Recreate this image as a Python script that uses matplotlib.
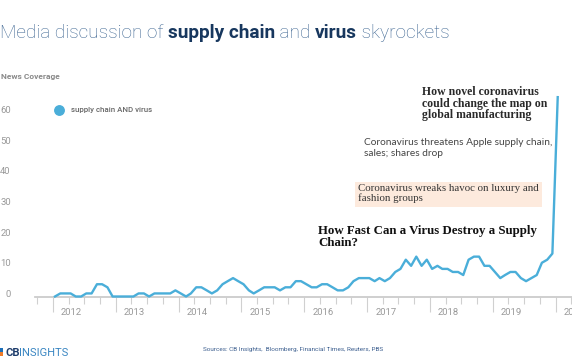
import pandas as pd
import matplotlib
matplotlib.use('Agg')
import matplotlib.pyplot as plt
import matplotlib.dates as mdates
from matplotlib.lines import Line2D
from matplotlib.patches import Rectangle
from matplotlib.transforms import ScaledTranslation

# === Data: monthly news mentions of "supply chain AND virus" ===
start_month = '2012-01-01'
mentions = [0, 1, 1, 1, 0, 0, 1, 1, 4, 4, 3, 0,       # 2012
            0, 0, 0, 0, 1, 1, 0, 1, 1, 1, 1, 2,       # 2013
            1, 0, 1, 3, 3, 2, 1, 2, 4, 5, 6, 5,       # 2014
            4, 2, 1, 2, 3, 3, 3, 2, 3, 3, 5, 5,       # 2015
            4, 3, 3, 4, 4, 3, 2, 2, 3, 5, 6, 6,       # 2016
            6, 5, 6, 5, 6, 8, 9, 12, 10, 13, 10, 12,  # 2017
            9, 10, 9, 9, 8, 8, 7, 12, 13, 13, 10, 10,  # 2018
            8, 6, 7, 8, 8, 6, 5, 6, 7, 11, 12, 14,    # 2019
            65]                                        # 2020
series_label = 'supply chain AND virus'
years = list(range(2012, 2021))
y_ticks = [0, 10, 20, 30, 40, 50, 60]

headlines = [
    'How novel coronavirus\ncould change the map on\nglobal manufacturing',
    'Coronavirus threatens Apple supply chain,\nsales; shares drop',
    'Coronavirus wreaks havoc on luxury and\nfashion groups',
    'How Fast Can a Virus Destroy a Supply\nChain?',
]

title_parts = [('Media discussion of ', 'light', '#3a6390'),
               ('supply chain', 'bold', '#17375e'),
               (' and ', 'light', '#3a6390'),
               ('virus', 'bold', '#17375e'),
               (' skyrockets', 'light', '#3a6390')]

LINE_COLOR = '#4aaed9'
GRAY = '#999999'

W, H = 572, 364
fig = plt.figure(figsize=(W / 100, H / 100), dpi=100)


def fx(px):
    return px / W


def fy(py):
    return 1 - py / H


dates = pd.date_range(start_month, periods=len(mentions), freq='MS') + pd.Timedelta(days=12)

# axes placed so that 2012-01-01 sits at x=53px, baseline at y=296px
ax = fig.add_axes([fx(35), fy(296.5), fx(W - 35), (66 * 3.067) / H])
ax.plot(dates, mentions, color=LINE_COLOR, lw=1.7, clip_on=False,
        solid_joinstyle='round', zorder=3)

ax.set_ylim(0, 66)
ax.set_xlim(pd.Timestamp('2011-09-19'), pd.Timestamp('2020-04-05'))

for side in ['top', 'right', 'left']:
    ax.spines[side].set_visible(False)
ax.spines['bottom'].set_color('#cccccc')
ax.spines['bottom'].set_linewidth(1.3)

ax.xaxis.set_major_locator(mdates.YearLocator())
ax.xaxis.set_minor_locator(mdates.MonthLocator(bymonth=[4, 7, 10]))
ax.tick_params(axis='x', which='major', length=11, width=0.8, color='#d0d0d0', labelbottom=False)
ax.tick_params(axis='x', which='minor', length=5, width=0.8, color='#d0d0d0')

for yr in years:
    ax.annotate(str(yr), xy=(pd.Timestamp(f'{yr}-01-01'), 0), xycoords=('data', 'axes fraction'),
                xytext=(5.8, -11.5), textcoords='offset points', ha='left', va='center',
                fontsize=6.8, color=GRAY, family='Roboto', annotation_clip=False)

ax.set_yticks(y_ticks)
ax.set_yticklabels([str(v) for v in y_ticks])
ax.tick_params(axis='y', length=0, pad=17.5, labelsize=6.8, labelcolor=GRAY)
for lbl in ax.get_yticklabels():
    lbl.set_family('Roboto')
    lbl.set_horizontalalignment('right')
    lbl.set_transform(lbl.get_transform() + ScaledTranslation(0, 3 / 100, fig.dpi_scale_trans))

fig.text(fx(1), fy(77), 'News Coverage', fontsize=6, fontweight='bold', color='#8a8a8a',
         family='Roboto', va='center', ha='left')

handle = Line2D([], [], marker='o', linestyle='none', color=LINE_COLOR, markersize=6.8)
ax.legend([handle], [series_label], loc='center left', bbox_to_anchor=(fx(51.5), fy(110)),
          bbox_transform=fig.transFigure, frameon=False, borderpad=0, handlelength=1.0,
          handletextpad=0.95, prop={'family': 'Roboto', 'size': 5.7, 'weight': 'medium'},
          labelcolor='#666666')

# title built from pieces (mixed weights)
renderer = fig.canvas.get_renderer()
x = fx(0)
for txt, weight, color in title_parts:
    t = fig.text(x, fy(37.5), txt, fontsize=13.7, fontweight=weight, color=color,
                 family='Roboto', va='baseline', ha='left')
    x = t.get_window_extent(renderer).x1 / W

# headline call-outs
fig.text(fx(421.5), fy(86), headlines[0], fontsize=8.5, fontweight='bold', color='#2a2a2a',
         family='Liberation Serif', va='top', ha='left', linespacing=0.95)
fig.text(fx(364), fy(138), headlines[1], fontsize=7.3, color='#444444',
         family='Lato', va='top', ha='left', linespacing=1.3)
fig.patches.append(Rectangle((fx(355), fy(207.3)), fx(541.7 - 355), (207.3 - 181.7) / H,
                             transform=fig.transFigure, facecolor='#fdeadd', edgecolor='none', zorder=0))
fig.text(fx(357.5), fy(184), headlines[2], fontsize=7.85, color='#333333',
         family='Liberation Serif', va='top', ha='left', linespacing=1.02)
fig.text(fx(318), fy(225), headlines[3], fontsize=9.3, fontweight='bold', color='#111111',
         family='Liberation Serif', va='top', ha='left', linespacing=0.98)

# footer: logo and sources
fig.patches.append(Rectangle((fx(0), fy(356)), fx(2.5), 4 / H, transform=fig.transFigure,
                             facecolor='#f07c29', edgecolor='none'))
fig.patches.append(Rectangle((fx(0), fy(352)), fx(2.5), 4 / H, transform=fig.transFigure,
                             facecolor='#1d6fb8', edgecolor='none'))
t = fig.text(fx(5), fy(353), 'CB', fontsize=8, fontweight='bold', color='#1d3c6b',
             family='Roboto', va='center', ha='left')
fig.text(t.get_window_extent(renderer).x1 / W, fy(353), 'INSIGHTS', fontsize=8, color='#3a86c2',
         family='Roboto', va='center', ha='left')
fig.text(fx(203), fy(350), 'Sources: CB Insights,  Bloomberg, Financial Times, Reuters, PBS',
         fontsize=4.6, color='#3d5f8f', family='Roboto', va='center', ha='left')

fig.savefig('out.png', dpi=100)
plt.close(fig)
